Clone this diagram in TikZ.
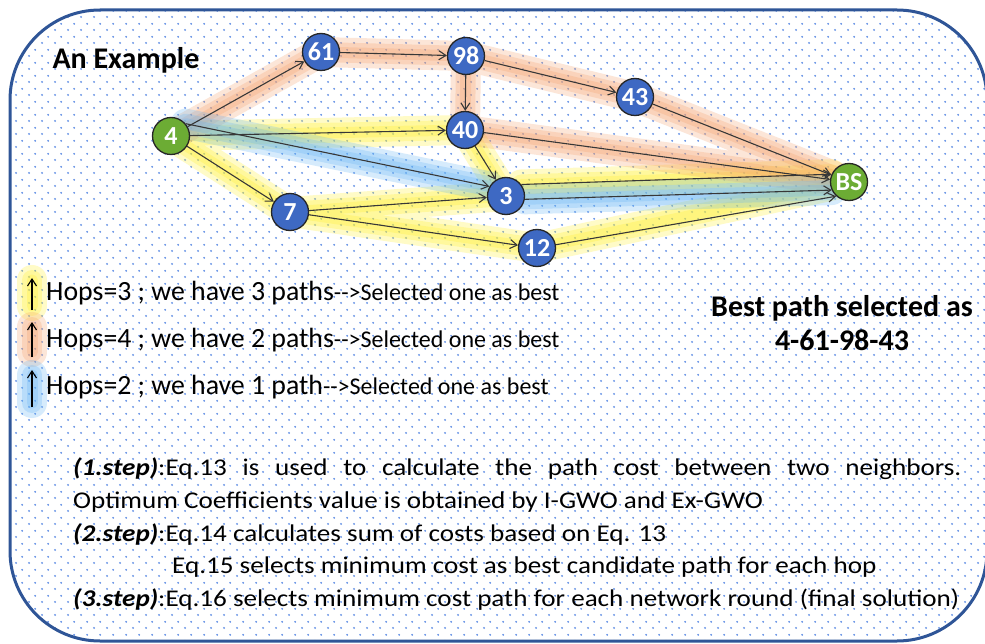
\documentclass[tikz,border=0pt]{standalone}
\usepackage{fontspec}
\setmainfont{Carlito}
\usetikzlibrary{arrows.meta,patterns.meta}

\definecolor{framecol}{RGB}{47,85,151}
\definecolor{dotcol}{RGB}{100,145,230}
\definecolor{nodeblue}{RGB}{62,105,195}
\definecolor{nodegreen}{RGB}{108,172,52}
\definecolor{edgecol}{RGB}{55,55,55}
\definecolor{glowyellow}{RGB}{255,240,40}
\definecolor{gloworange}{RGB}{245,160,105}
\definecolor{glowblue}{RGB}{100,180,245}

\tikzdeclarepattern{
  name=bgdots,
  type=uncolored,
  bounding box={(0pt,0pt) and (12.6pt,12.6pt)},
  tile size={(12.6pt,12.6pt)},
  code={
    \fill (3.15pt,3.15pt) circle (1.1pt);
    \fill (9.45pt,9.45pt) circle (1.1pt);
  }
}

\pgfdeclarelayer{bg}
\pgfsetlayers{bg,main}

\tikzset{
  hopnode/.style={circle, draw=black!85, line width=1.3pt, fill=nodeblue, text=white,
    font=\fontsize{26}{26}\selectfont\bfseries, minimum size=37pt, inner sep=0pt},
  bsnode/.style={hopnode, fill=nodegreen},
  link/.style={draw=edgecol, line width=1.1pt, -{Straight Barb[length=7pt,width=9pt]}},
  glow/.style={line cap=round, line join=round, opacity=0.26, line width=#1},
  legtext/.style={anchor=west, inner sep=0pt, font=\fontsize{27.8}{28}\selectfont},
  steptext/.style={anchor=west, inner sep=0pt, font=\fontsize{24}{24}\selectfont},
}

\newcommand\glowpath[2]{%
  \draw[#1, glow=30pt] #2;
  \draw[#1, glow=20pt] #2;
  \draw[#1, glow=11pt] #2;
}
\newcommand\wide[1]{\scalebox{1.13}[1]{#1}}

\begin{document}
\begin{tikzpicture}[x=1pt,y=-1pt]
		\useasboundingbox (0,0) rectangle (985,644);
		
		%%%%% nodes %%%%%
		\node[bsnode] (n4) at (171,136) {4};
		\node[hopnode] (n61) at (321,52) {61};
		\node[hopnode] (n98) at (466,56) {98};
		\node[hopnode] (n43) at (635,97) {43};
		\node[hopnode] (n40) at (465,130) {40};
		\node[hopnode] (n3) at (506,196) {3};
		\node[hopnode] (n7) at (290,212) {7};
		\node[hopnode] (n12) at (537,248) {12};
		\node[bsnode] (bs) at (849,182) {BS};
		
		%%%%% links %%%%%
		\draw[link] (n4) -- (n61);
		\draw[link] (n61) -- (n98);
		\draw[link] (n98) -- (n43);
		\draw[link] (n98) -- (n40);
		\draw[link] (n43) -- (bs);
		\draw[link] (n40) -- (bs);
		\draw[link] (n4) -- (n40);
		\draw[link] (n4.40) -- (n3.150);
		\draw[link] (n40) -- (n3);
		\draw[link] (n4) -- (n7);
		\draw[link] (n7) -- (n3);
		\draw[link] (n7) -- (n12);
		\draw[link] (n3.37) -- (bs.156);
		\draw[link] (n3.-10) -- (bs.205);
		\draw[link] (n12) -- (bs.228);
		
		%%%%% texts %%%%%
		\node[anchor=west, font=\fontsize{30}{30}\selectfont\bfseries] (title) at (49,60) {An Example};
		\node[align=center, font=\fontsize{30}{34}\selectfont\bfseries] (best) at (842,323) {Best path selected as\\4-61-98-43};
		
		\coordinate (a1s) at (32,310); \coordinate (a1e) at (32,278);
		\coordinate (a2s) at (32,357); \coordinate (a2e) at (32,322);
		\coordinate (a3s) at (32,407); \coordinate (a3e) at (32,370);
		\draw[link, draw=black] (a1s) -- (a1e);
		\draw[link, draw=black] (a2s) -- (a2e);
		\draw[link, draw=black] (a3s) -- (a3e);
		\node[legtext] (leg1) at (46,293) {Hops=3 ; we have 3 paths{\fontsize{24}{24}\selectfont -{}->Selected one as best}};
		\node[legtext] (leg2) at (46,340) {Hops=4 ; we have 2 paths{\fontsize{24}{24}\selectfont -{}->Selected one as best}};
		\node[legtext] (leg3) at (46,387) {Hops=2 ; we have 1 path{\fontsize{24}{24}\selectfont -{}->Selected one as best}};
		
		\node[steptext] (s1) at (73,469) {\wide{\makebox[786pt][s]{\textbf{\textit{(1.step)}}:Eq.13 is used to calculate the path cost between two neighbors.}}};
		\node[steptext] (s1b) at (73,502) {\wide{Optimum Coefficients value is obtained by I-GWO and Ex-GWO}};
		\node[steptext] (s2) at (73,535) {\wide{\textbf{\textit{(2.step)}}:Eq.14 calculates sum of costs based on Eq. 13}};
		\node[steptext] (s2b) at (172,567) {\wide{Eq.15 selects minimum cost as best candidate path for each hop}};
		\node[steptext] (s3) at (73,600) {\wide{\textbf{\textit{(3.step)}}:Eq.16 selects minimum cost path for each network round (final solution)}};
		
		%%%%% background, frame and glow %%%%%
		\begin{pgfonlayer}{bg}
			\fill[white] (0,0) rectangle (985,644);
			\draw[framecol, line width=3pt, rounded corners=90pt, pattern=bgdots, pattern color=dotcol] (10,10) rectangle (987,641);
			\glowpath{glowyellow}{(n4.center) -- (n40.center) -- (n3.center) (n3.37) -- (bs.156) (n4.center) -- (n7.center) -- (n3.center) (n7.center) -- (n12.center) -- (bs.center)}
			\glowpath{gloworange}{(n4.center) -- (n61.center) -- (n98.center) -- (n43.center) -- (bs.center) (n98.center) -- (n40.center) -- (bs.center)}
			\glowpath{glowblue}{(n4.40) -- (n3.150) (n3.-10) -- (bs.205)}
			\glowpath{glowyellow}{(32,280) -- (32,306)}
			\glowpath{gloworange}{(32,327) -- (32,352)}
			\glowpath{glowblue}{(32,375) -- (32,403)}
		\end{pgfonlayer}
\end{tikzpicture}
\end{document}
